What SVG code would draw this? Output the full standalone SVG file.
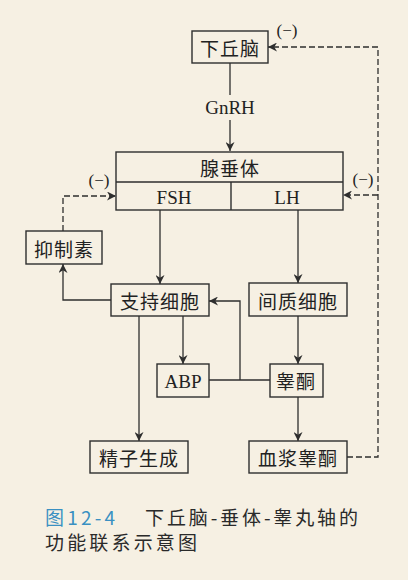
<svg xmlns="http://www.w3.org/2000/svg" width="408" height="580" viewBox="0 0 408 580">
<style>
.bg{fill:#f6f0e3}
.box{fill:none;stroke:#2e2e2e;stroke-width:1.4}
.ln{fill:none;stroke:#2e2e2e;stroke-width:1.3}
.dash{fill:none;stroke:#2e2e2e;stroke-width:1.3;stroke-dasharray:6 3}
.cn{font-family:"Noto Sans CJK SC",sans-serif;font-size:19px;letter-spacing:1px;fill:#222;text-anchor:middle;dominant-baseline:central}
.lt{font-family:"Liberation Serif",serif;font-size:19px;fill:#222;text-anchor:middle;dominant-baseline:central}
.neg{font-family:"Liberation Serif",serif;font-size:17px;fill:#222;text-anchor:middle;dominant-baseline:central}
.cap{font-family:"Noto Sans CJK SC",sans-serif;font-size:19px;fill:#2a2a2a}
.capb{font-family:"Noto Sans CJK SC",sans-serif;font-size:19px;fill:#3a90c2}
</style>
<defs>
<marker id="ah" viewBox="0 0 10 10" refX="10" refY="5" markerWidth="9" markerHeight="9" markerUnits="userSpaceOnUse" orient="auto">
<path d="M0,0 L10,5 L0,10 L3,5 Z" fill="#2e2e2e"/>
</marker>
</defs>
<rect class="bg" x="0" y="0" width="408" height="580"/>
<g id="connectors">
<line class="ln" x1="230" y1="63" x2="230" y2="95"/>
<line class="ln" x1="230" y1="120" x2="230" y2="151" marker-end="url(#ah)"/>
<line class="ln" x1="160" y1="210" x2="160" y2="284" marker-end="url(#ah)"/>
<line class="ln" x1="298" y1="210" x2="298" y2="283" marker-end="url(#ah)"/>
<polyline class="ln" points="111,300 63,300 63,264" marker-end="url(#ah)"/>
<line class="ln" x1="183" y1="316" x2="183" y2="364" marker-end="url(#ah)"/>
<line class="ln" x1="298" y1="316" x2="298" y2="364" marker-end="url(#ah)"/>
<line class="ln" x1="139" y1="316" x2="139" y2="441" marker-end="url(#ah)"/>
<line class="ln" x1="298" y1="397" x2="298" y2="441" marker-end="url(#ah)"/>
<line class="ln" x1="209" y1="380" x2="270" y2="380"/>
<polyline class="ln" points="240,380 240,301 209,301" marker-end="url(#ah)"/>
<polyline class="dash" points="63,231 63,196 116,196" marker-end="url(#ah)"/>
<polyline class="dash" points="347,457 378,457 378,47 268,47" marker-end="url(#ah)"/>
<line class="dash" x1="378" y1="195" x2="343" y2="195" marker-end="url(#ah)"/>
<text class="neg" x="287" y="30">(−)</text>
<text class="neg" x="99" y="180">(−)</text>
<text class="neg" x="363" y="179">(−)</text>
<text class="lt" x="230" y="107">GnRH</text>
</g>
<g id="hypothalamus">
<rect class="box" x="192" y="31" width="76" height="32"/>
<text class="cn" x="230" y="47">下丘脑</text>
</g>
<g id="pituitary">
<rect class="box" x="116" y="152" width="227" height="58"/>
<line class="box" x1="116" y1="182" x2="343" y2="182"/>
<line class="box" x1="231" y1="182" x2="231" y2="210"/>
<text class="cn" x="230" y="167">腺垂体</text>
<text class="lt" x="174" y="197">FSH</text>
<text class="lt" x="287" y="197">LH</text>
</g>
<g id="inhibin">
<rect class="box" x="26" y="231" width="76" height="33"/>
<text class="cn" x="64" y="248">抑制素</text>
</g>
<g id="sertoli">
<rect class="box" x="111" y="284" width="98" height="32"/>
<text class="cn" x="160" y="300">支持细胞</text>
</g>
<g id="leydig">
<rect class="box" x="249" y="283" width="98" height="33"/>
<text class="cn" x="298" y="300">间质细胞</text>
</g>
<g id="abp">
<rect class="box" x="157" y="364" width="52" height="33"/>
<text class="lt" x="183" y="381">ABP</text>
</g>
<g id="testosterone">
<rect class="box" x="270" y="364" width="53" height="33"/>
<text class="cn" x="296" y="380">睾酮</text>
</g>
<g id="spermatogenesis">
<rect class="box" x="90" y="441" width="98" height="32"/>
<text class="cn" x="139" y="457">精子生成</text>
</g>
<g id="plasma-testosterone">
<rect class="box" x="249" y="441" width="98" height="32"/>
<text class="cn" x="298" y="457">血浆睾酮</text>
</g>
<g id="caption">
<text class="capb" x="45" y="525" textLength="70">图12-4</text>
<text class="cap" x="145" y="525" textLength="213">下丘脑-垂体-睾丸轴的</text>
<text class="cap" x="45" y="550" textLength="152">功能联系示意图</text>
</g>
</svg>
